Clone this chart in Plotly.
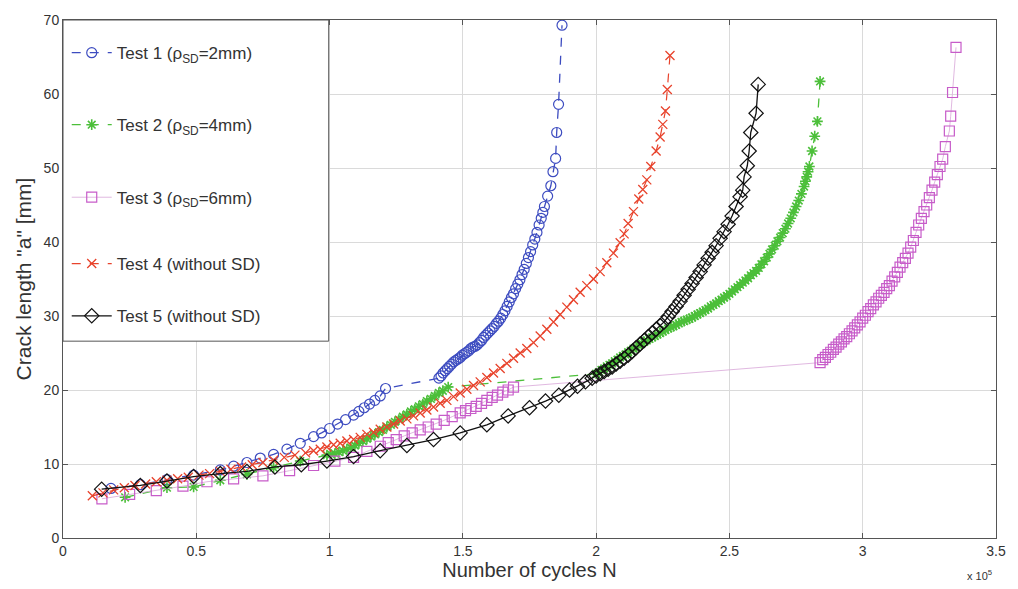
import plotly.graph_objects as go

# Number of cycles N (in units of 1e5) and crack length a [mm]
t1_N = [0.18, 0.29, 0.39, 0.49, 0.59, 0.64, 0.69, 0.74, 0.79, 0.84, 0.89, 0.94, 0.97, 1.00,
        1.03, 1.06, 1.09, 1.11, 1.13, 1.15, 1.17, 1.19, 1.21,
        1.410, 1.418, 1.426, 1.434, 1.442, 1.450, 1.458, 1.466, 1.474, 1.482, 1.490, 1.498,
        1.506, 1.514, 1.522, 1.530, 1.538, 1.546, 1.554, 1.562, 1.570, 1.578, 1.586, 1.594,
        1.602, 1.610, 1.618, 1.626, 1.634, 1.642, 1.650, 1.658, 1.666, 1.674, 1.682, 1.690,
        1.698, 1.706, 1.714, 1.722, 1.730, 1.738, 1.746, 1.754, 1.762, 1.770, 1.778, 1.786,
        1.794, 1.800, 1.806, 1.818, 1.830, 1.838, 1.848, 1.852, 1.859, 1.872]
t1_a = [6.7, 7.2, 7.9, 8.5, 9.2, 9.7, 10.2, 10.8, 11.3, 12.0, 12.8, 13.7, 14.2, 14.8,
        15.4, 16.0, 16.6, 17.1, 17.6, 18.1, 18.6, 19.2, 20.2,
        21.6, 21.9, 22.3, 22.6, 22.9, 23.2, 23.5, 23.8, 24.0, 24.2, 24.4, 24.7,
        24.9, 25.1, 25.3, 25.6, 25.8, 25.9, 26.1, 26.4, 26.7, 27.1, 27.4, 27.7,
        28.0, 28.3, 28.6, 29.0, 29.3, 29.7, 30.2, 30.7, 31.3, 31.9, 32.5, 33.0,
        33.7, 34.3, 34.9, 35.6, 36.3, 37.1, 37.9, 38.7, 39.6, 40.4, 41.3, 42.3,
        43.2, 44.0, 44.8, 46.2, 47.6, 49.5, 51.3, 54.8, 58.6, 69.3]

t2_N = [0.233, 0.39, 0.49, 0.59, 0.69, 0.79, 0.89, 0.99,
        1.005, 1.02, 1.035, 1.05, 1.065, 1.08, 1.095, 1.11, 1.125, 1.14, 1.155, 1.17, 1.185,
        1.20, 1.215, 1.23, 1.245, 1.26, 1.275, 1.29, 1.305, 1.32, 1.335, 1.35, 1.365, 1.38,
        1.395, 1.41, 1.425, 1.445,
        2.00, 2.01, 2.02, 2.03, 2.04, 2.05, 2.06, 2.07, 2.08, 2.09, 2.10, 2.11, 2.12, 2.13,
        2.14, 2.15, 2.16, 2.17, 2.18, 2.19, 2.20, 2.21, 2.22, 2.23, 2.24, 2.25, 2.26, 2.27,
        2.28, 2.29, 2.30, 2.31, 2.32, 2.33, 2.34, 2.35, 2.36, 2.37, 2.38, 2.39, 2.40, 2.41,
        2.42, 2.43, 2.44, 2.45, 2.46, 2.47, 2.48, 2.49, 2.50, 2.51, 2.52, 2.53, 2.54, 2.55,
        2.56, 2.57, 2.58, 2.59, 2.60, 2.61, 2.62, 2.63, 2.64, 2.65, 2.66, 2.67, 2.68, 2.69,
        2.70, 2.71, 2.72, 2.73, 2.74, 2.75, 2.76, 2.77, 2.78, 2.785, 2.79, 2.795, 2.80, 2.81,
        2.82, 2.83, 2.84]
t2_a = [5.5, 6.8, 6.9, 7.8, 8.6, 9.5, 10.4, 11.2,
        11.3, 11.4, 11.6, 11.8, 12.0, 12.2, 12.5, 12.8, 13.1, 13.4, 13.7, 14.0, 14.3,
        14.6, 15.0, 15.3, 15.7, 16.0, 16.4, 16.7, 17.1, 17.4, 17.8, 18.1, 18.5, 18.8,
        19.2, 19.6, 19.9, 20.4,
        22.2, 22.4, 22.7, 22.9, 23.2, 23.4, 23.6, 23.9, 24.1, 24.4, 24.6, 24.8, 25.1, 25.3,
        25.6, 25.8, 26.0, 26.3, 26.5, 26.7, 26.9, 27.1, 27.3, 27.5, 27.7, 27.9, 28.1, 28.3,
        28.5, 28.6, 28.8, 29.0, 29.2, 29.3, 29.5, 29.6, 29.8, 30.0, 30.2, 30.4, 30.6, 30.8,
        31.0, 31.3, 31.5, 31.7, 32.0, 32.2, 32.5, 32.7, 33.0, 33.3, 33.6, 33.9, 34.2, 34.5,
        34.8, 35.1, 35.5, 35.8, 36.1, 36.5, 37.0, 37.4, 37.9, 38.4, 39.0, 39.5, 40.1, 40.6,
        41.2, 41.8, 42.5, 43.2, 44.0, 44.8, 45.6, 46.5, 47.5, 48.2, 48.8, 49.5, 50.2, 52.3,
        54.3, 56.3, 61.7]

t3_N = [0.146, 0.25, 0.35, 0.45, 0.54, 0.64, 0.75, 0.85, 0.94, 1.02, 1.09, 1.14, 1.19, 1.22,
        1.25, 1.28, 1.31, 1.34, 1.37, 1.40, 1.43, 1.46, 1.49, 1.51, 1.53, 1.55, 1.57, 1.59,
        1.61, 1.63, 1.65, 1.67, 1.69,
        2.84, 2.85, 2.86, 2.87, 2.88, 2.89, 2.90, 2.91, 2.92, 2.93, 2.94, 2.95, 2.96, 2.97,
        2.98, 2.99, 3.00, 3.01, 3.02, 3.03, 3.04, 3.05, 3.06, 3.07, 3.08, 3.09, 3.10, 3.11,
        3.12, 3.13, 3.14, 3.15, 3.16, 3.17, 3.18, 3.19, 3.20, 3.21, 3.22, 3.23, 3.24, 3.25,
        3.26, 3.27, 3.28, 3.29, 3.30, 3.31, 3.325, 3.33, 3.337, 3.35]
t3_a = [5.3, 5.9, 6.4, 7.0, 7.6, 8.0, 8.4, 9.1, 9.8, 10.4, 10.9, 11.7, 12.4, 12.9,
        13.3, 13.8, 14.2, 14.6, 15.0, 15.4, 15.9, 16.4, 16.9, 17.2, 17.5, 17.8, 18.2, 18.6,
        19.0, 19.3, 19.7, 20.0, 20.4,
        23.7, 24.1, 24.4, 24.8, 25.1, 25.5, 25.8, 26.2, 26.5, 26.9, 27.2, 27.6, 28.0, 28.4,
        28.8, 29.2, 29.7, 30.1, 30.6, 31.0, 31.5, 31.9, 32.4, 32.8, 33.2, 33.7, 34.1, 34.7,
        35.3, 35.9, 36.6, 37.2, 37.8, 38.5, 39.3, 40.2, 41.3, 42.3, 43.2, 44.1, 45.0, 46.0,
        47.0, 48.1, 49.1, 50.2, 51.2, 52.9, 55.0, 57.0, 60.2, 66.3]

t4_N = [0.11, 0.15, 0.19, 0.23, 0.27, 0.31, 0.35, 0.39, 0.43, 0.47, 0.51, 0.55, 0.59, 0.63,
        0.67, 0.71, 0.75, 0.79, 0.83, 0.87, 0.91, 0.94, 0.965, 0.99, 1.015, 1.04, 1.065, 1.09,
        1.115, 1.14, 1.165, 1.19, 1.215, 1.24, 1.265, 1.29, 1.315, 1.34, 1.365, 1.39, 1.415,
        1.44, 1.465, 1.49, 1.515, 1.54, 1.565, 1.59, 1.615, 1.64, 1.665, 1.69, 1.715, 1.74,
        1.765, 1.79, 1.815, 1.84, 1.865, 1.89, 1.915, 1.94, 1.965, 1.99, 2.015, 2.04, 2.065,
        2.09, 2.105, 2.12, 2.14, 2.16, 2.175, 2.19, 2.205, 2.225, 2.24, 2.25, 2.26, 2.267, 2.277]
t4_a = [5.7, 6.1, 6.5, 6.8, 7.1, 7.3, 7.6, 7.8, 8.0, 8.2, 8.5, 8.7, 9.0, 9.3,
        9.6, 9.9, 10.2, 10.5, 10.9, 11.2, 11.5, 11.8, 12.0, 12.3, 12.6, 12.8, 13.1, 13.3,
        13.6, 14.0, 14.3, 14.7, 15.0, 15.4, 15.8, 16.1, 16.5, 16.9, 17.3, 17.7, 18.2,
        18.6, 19.1, 19.6, 20.1, 20.6, 21.1, 21.7, 22.3, 22.9, 23.6, 24.3, 25.0, 25.6,
        26.4, 27.3, 28.2, 29.2, 30.2, 31.2, 32.2, 33.2, 34.1, 35.0, 36.0, 37.2, 38.5,
        39.9, 41.1, 42.5, 44.1, 45.8, 47.1, 48.4, 50.2, 52.3, 54.2, 55.9, 57.7, 60.6, 65.2]

t5_N = [0.145, 0.29, 0.39, 0.49, 0.59, 0.69, 0.795, 0.894, 0.99, 1.09, 1.19, 1.29, 1.39, 1.49,
        1.59, 1.67, 1.75, 1.81, 1.86, 1.90, 1.93, 1.96, 1.985, 2.00, 2.015, 2.03, 2.045, 2.06,
        2.075, 2.09, 2.105, 2.12, 2.135, 2.15, 2.165, 2.18, 2.195, 2.21, 2.225, 2.24, 2.255,
        2.27, 2.285, 2.30, 2.315, 2.33, 2.345, 2.36, 2.375, 2.39, 2.405, 2.42, 2.435, 2.45,
        2.465, 2.48, 2.495, 2.51, 2.525, 2.54, 2.55, 2.555, 2.567, 2.574, 2.58, 2.60, 2.608]
t5_a = [6.6, 7.1, 7.7, 8.3, 8.7, 9.0, 9.6, 9.9, 10.4, 11.0, 11.8, 12.5, 13.3, 14.2,
        15.3, 16.5, 17.6, 18.5, 19.3, 20.0, 20.5, 21.1, 21.6, 21.9, 22.2, 22.5, 22.8, 23.1,
        23.5, 23.9, 24.3, 24.7, 25.2, 25.7, 26.2, 26.7, 27.2, 27.7, 28.2, 28.7, 29.2,
        29.9, 30.6, 31.3, 32.0, 32.8, 33.6, 34.4, 35.2, 36.0, 36.9, 37.8, 38.6, 39.5,
        40.5, 41.4, 42.4, 43.5, 44.8, 46.1, 47.0, 48.8, 50.3, 52.3, 54.8, 57.4, 61.3]

names = ["Test 1 (ρ<sub>SD</sub>=2mm)", "Test 2 (ρ<sub>SD</sub>=4mm)", "Test 3 (ρ<sub>SD</sub>=6mm)",
         "Test 4 (without SD)", "Test 5 (without SD)"]

x_ticks = [0, 0.5, 1, 1.5, 2, 2.5, 3, 3.5]
x_ticklabels = ["0", "0.5", "1", "1.5", "2", "2.5", "3", "3.5"]
y_ticks = [0, 10, 20, 30, 40, 50, 60, 70]

FONT = "Liberation Sans, Arial, sans-serif"

styles = [
    dict(color="#3d4cc0", line="#3d4cc0", symbol="circle-open", size=10, dash="dash", lw=1.3, mlw=1.2),
    dict(color="#4cbf3a", line="#4cbf3a", symbol="asterisk-open", size=9, dash="dash", lw=1.3, mlw=1.6),
    dict(color="#c75cc9", line="#dcb0dd", symbol="square-open", size=10, dash="solid", lw=0.9, mlw=1.2),
    dict(color="#e8432c", line="#e8432c", symbol="x-thin-open", size=9, dash="dash", lw=1.2, mlw=1.3),
    dict(color="#111111", line="#111111", symbol="diamond-open", size=11, dash="solid", lw=1.3, mlw=1.2),
]
series = [(t1_N, t1_a), (t2_N, t2_a), (t3_N, t3_a), (t4_N, t4_a), (t5_N, t5_a)]

fig = go.Figure()
legend_ids = ["legend", "legend2", "legend3", "legend4", "legend5"]
for (xs, ys), st, nm, lid in zip(series, styles, names, legend_ids):
    fig.add_trace(go.Scatter(
        x=xs, y=ys, name=nm, mode="lines+markers", legend=lid, showlegend=True,
        line=dict(color=st["line"], width=st["lw"], dash=st["dash"]),
        marker=dict(symbol=st["symbol"], size=st["size"], color=st["color"],
                    line=dict(color=st["color"], width=st["mlw"])),
    ))

# legend positions (paper y of each entry)
leg_y = [0.936, 0.797, 0.657, 0.529, 0.428]
leg_cfg = {}
for lid, yy in zip(legend_ids, leg_y):
    leg_cfg[lid] = dict(x=0.004, y=yy, xanchor="left", yanchor="middle",
                        bgcolor="rgba(0,0,0,0)", borderwidth=0, visible=True,
                        font=dict(family=FONT, size=17, color="#333333"),
                        itemwidth=40)

axis_common = dict(showline=True, linecolor="#555555", linewidth=1, mirror="ticks",
                   ticks="inside", ticklen=5, tickcolor="#555555",
                   showgrid=True, gridcolor="#dadada", gridwidth=1, zeroline=False,
                   tickfont=dict(family=FONT, size=14, color="#333333"))

fig.update_layout(
    width=1018, height=589,
    showlegend=True,
    margin=dict(l=63, r=21, t=14, b=49),
    paper_bgcolor="white", plot_bgcolor="white",
    font=dict(family=FONT, color="#333333"),
    xaxis=dict(range=[0, 3.5], tickvals=x_ticks, ticktext=x_ticklabels,
               title=dict(text="Number of cycles N", font=dict(family=FONT, size=20, color="#333333"),
                          standoff=4),
               **axis_common),
    yaxis=dict(range=[0, 70], tickvals=y_ticks,
               title=dict(text="Crack length \"a\" [mm]", font=dict(family=FONT, size=21, color="#333333"),
                          standoff=6),
               **axis_common),
    shapes=[dict(type="rect", xref="paper", yref="paper", x0=0, x1=0.2848, y0=0.380, y1=1.0,
                 line=dict(color="#555555", width=1), fillcolor="white", layer="above")],
    annotations=[dict(text="x 10<sup>5</sup>", xref="paper", yref="paper", x=0.982, y=-0.072,
                      xanchor="center", yanchor="middle", showarrow=False,
                      font=dict(family=FONT, size=11, color="#333333"))],
    **leg_cfg,
)

fig.write_html("out.html")
